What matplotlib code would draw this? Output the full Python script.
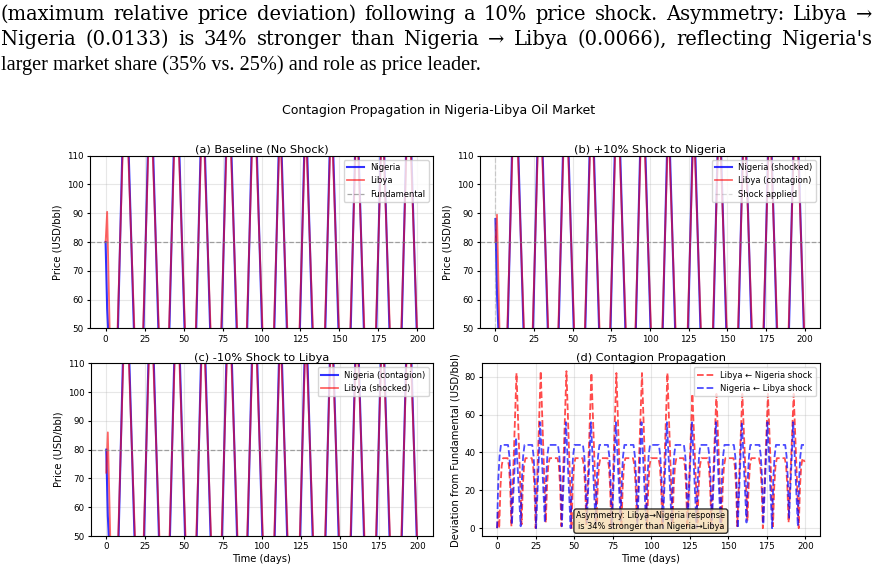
import numpy as np
import matplotlib.pyplot as plt

# ---- data ----
# spike vertices shared by the three price panels (days)
cycle_t = [7.3, 11.3, 14.1, 18.9, 23.7, 27.7, 29.8, 34.6, 40.3, 44.3, 46.6, 51.4,
           57.5, 61.5, 63.0, 67.8, 73.8, 77.8, 80.0, 84.8, 90.2, 94.2, 96.3, 101.1,
           107.6, 111.6, 112.2, 117.0, 124.0, 128.0, 128.6, 133.4, 140.3, 144.3, 145.3, 150.1,
           156.6, 160.6, 161.6, 166.4, 173.0, 177.0, 178.0, 182.8, 189.3, 193.3, 195.4, 200.0]
nga_cycle = [36, 124, 124, 36, 36, 124, 124, 36, 36, 124, 124, 36,
             36, 124, 124, 36, 36, 124, 124, 36, 36, 124, 124, 36,
             36, 124, 124, 36, 36, 124, 124, 36, 36, 124, 124, 36,
             36, 124, 124, 36, 36, 124, 124, 36, 36, 124, 124, 41]
lby_cycle = [43, 117, 117, 43, 43, 117, 117, 43, 43, 117, 117, 43,
             43, 117, 117, 43, 43, 117, 117, 43, 43, 117, 117, 43,
             43, 117, 117, 43, 43, 117, 117, 43, 43, 117, 117, 43,
             43, 117, 117, 43, 43, 117, 117, 43, 43, 117, 117, 46]

# opening days of each scenario
start_t = [0, 1, 3]
nga_start_a = [80, 57, 34]
lby_start_a = [80, 90.5, 40]
nga_start_b = [88, 62, 34]
lby_start_b = [80, 89.5, 40]
nga_start_c = [80, 57, 34]
lby_start_c = [72, 86, 40]

fundamental = 80

# panel (d): deviation from fundamental, Libya under the Nigeria shock
lby_dev_t = [0, 1, 1.4, 2.2, 3.0, 3.9, 6.8, 7.7, 8.5, 9.3, 12.6, 15.9,
             16.7, 17.5, 18.4, 22.5, 23.4, 24.2, 25.0, 28.3, 31.6,
             32.4, 33.2, 34.1, 39.2, 40.1, 40.9, 41.7, 45.0, 48.3,
             49.1, 49.9, 50.8, 55.4, 56.3, 57.1, 57.9, 61.2, 64.5,
             65.3, 66.1, 67.0, 71.6, 72.5, 73.3, 74.1, 77.4, 80.7,
             81.5, 82.3, 83.2, 88.2, 89.1, 89.9, 90.7, 94.0, 97.3,
             98.1, 98.9, 99.8, 104.7, 105.6, 106.4, 107.2, 110.5, 113.8,
             114.6, 115.4, 116.3, 120.9, 121.8, 122.6, 123.4, 126.7, 130.0,
             130.8, 131.6, 132.5, 136.5, 137.4, 138.2, 139.0, 142.3, 145.6,
             146.4, 147.2, 148.1, 153.3, 154.2, 155.0, 155.8, 159.1, 162.4,
             163.2, 164.0, 164.9, 169.9, 170.8, 171.6, 172.4, 175.7, 179.0,
             179.8, 180.6, 181.5, 186.6, 187.5, 188.3, 189.1, 192.4, 195.7,
             196.5, 197.3, 198.2, 199.5]
lby_dev = [0, 9.5, 0, 22, 33, 37, 37, 33, 22, 1, 82, 2,
           22, 33, 37, 37, 33, 22, 0, 83, 3,
           22, 33, 37, 37, 33, 22, 1, 83, 0,
           22, 33, 37, 37, 33, 22, 2, 82, 4,
           22, 33, 37, 37, 33, 22, 0, 82, 1,
           22, 33, 37, 37, 33, 22, 3, 82, 0,
           22, 33, 37, 37, 33, 22, 1, 82, 2,
           22, 33, 37, 37, 33, 22, 0, 71, 3,
           22, 33, 37, 37, 33, 22, 2, 71, 0,
           22, 33, 37, 37, 33, 22, 1, 71, 4,
           22, 33, 37, 37, 33, 22, 0, 71, 1,
           22, 33, 37, 37, 33, 22, 3, 71, 0,
           22, 33, 37, 35]

# Nigeria under the Libya shock
nga_dev_t = [0, 0.8, 1.6, 2.5, 7.1, 8.0, 8.8, 9.6, 12.3, 15.3,
             16.1, 16.9, 17.8, 22.8, 23.7, 24.5, 25.3, 28.0, 31.0,
             31.8, 32.6, 33.5, 39.5, 40.4, 41.2, 42.0, 44.7, 47.7,
             48.5, 49.3, 50.2, 55.7, 56.6, 57.4, 58.2, 60.9, 63.9,
             64.7, 65.5, 66.4, 71.9, 72.8, 73.6, 74.4, 77.1, 80.1,
             80.9, 81.7, 82.6, 88.5, 89.4, 90.2, 91.0, 93.7, 96.7,
             97.5, 98.3, 99.2, 105.0, 105.9, 106.7, 107.5, 110.2, 113.2,
             114.0, 114.8, 115.7, 121.2, 122.1, 122.9, 123.7, 126.4, 129.4,
             130.2, 131.0, 131.9, 136.8, 137.7, 138.5, 139.3, 142.0, 145.0,
             145.8, 146.6, 147.5, 153.6, 154.5, 155.3, 156.1, 158.8, 161.8,
             162.6, 163.4, 164.3, 170.2, 171.1, 171.9, 172.7, 175.4, 178.4,
             179.2, 180.0, 180.9, 186.9, 187.8, 188.6, 189.4, 192.1, 195.1,
             195.9, 196.7, 197.6, 199.5]
nga_dev = [0, 26, 38, 44, 44, 38, 26, 2, 48, 1,
           26, 38, 44, 44, 38, 26, 0, 56, 3,
           26, 38, 44, 44, 38, 26, 1, 56, 0,
           26, 38, 44, 44, 38, 26, 3, 56, 2,
           26, 38, 44, 44, 38, 26, 0, 56, 4,
           26, 38, 44, 44, 38, 26, 2, 56, 1,
           26, 38, 44, 44, 38, 26, 0, 56, 3,
           26, 38, 44, 44, 38, 26, 4, 56, 0,
           26, 38, 44, 44, 38, 26, 1, 56, 2,
           26, 38, 44, 44, 38, 26, 0, 56, 3,
           26, 38, 44, 44, 38, 26, 2, 56, 0,
           26, 38, 44, 44, 38, 26, 5, 56, 1,
           26, 38, 44, 44]

para = ["(maximum relative price deviation) following a 10% price shock. Asymmetry: Libya \u2192",
        "Nigeria (0.0133) is 34% stronger than Nigeria \u2192 Libya (0.0066), reflecting Nigeria's",
        "larger market share (35% vs. 25%) and role as price leader."]

W, H = 877, 574
fig = plt.figure(figsize=(W / 100, H / 100), dpi=100)
renderer = fig.canvas.get_renderer()

wide_font = ['DejaVu Serif']
narrow_font = ['Liberation Serif', 'DejaVu Serif']

# size the wide font so that the first line nearly fills the width
probe = fig.text(0, 0, para[0], fontsize=10, family=wide_font)
wide_size = 10 * 850 / probe.get_window_extent(renderer).width
probe.remove()


def put_line(text, y_px, fam, size, justify):
	# draw one paragraph line, optionally spread to the full width
	kw = dict(fontsize=size, family=fam, va='baseline')
	if not justify:
		fig.text(1 / W, 1 - y_px / H, text, **kw)
		return
	words = text.split(' ')
	objs = [fig.text(0, 1 - y_px / H, w, **kw) for w in words]
	widths = [o.get_window_extent(renderer).width for o in objs]
	gap = (871 - sum(widths)) / (len(words) - 1)
	x = 1
	for o, w in zip(objs, widths):
		o.set_x(x / W)
		x += w + gap


put_line(para[0], 20, wide_font, wide_size, True)
put_line(para[1], 45, wide_font, wide_size, True)
put_line(para[2], 70, narrow_font, 14.6, False)

fig.suptitle('Contagion Propagation in Nigeria-Libya Oil Market', fontsize=9, y=1 - 104 / H)

boxes = {'a': [90, 155.7, 433, 328.3], 'b': [480, 155.7, 820, 328.3],
         'c': [90.7, 363.3, 433, 536], 'd': [481.7, 363.3, 820, 536]}
axes = {}
for k, (x0, y0, x1, y1) in boxes.items():
	axes[k] = fig.add_axes([x0 / W, 1 - y1 / H, (x1 - x0) / W, (y1 - y0) / H])

tick_fs = 6.3
lab_fs = 7.2
tit_fs = 8.2
leg_fs = 6.0
lw = 1.3

scen = [('a', nga_start_a, lby_start_a, 'Nigeria', 'Libya', '(a) Baseline (No Shock)'),
        ('b', nga_start_b, lby_start_b, 'Nigeria (shocked)', 'Libya (contagion)', '(b) +10% Shock to Nigeria'),
        ('c', nga_start_c, lby_start_c, 'Nigeria (contagion)', 'Libya (shocked)', '(c) -10% Shock to Libya')]

for k, n0, l0, nlab, llab, title in scen:
	ax = axes[k]
	ax.plot(start_t + cycle_t, n0 + nga_cycle, 'b-', lw=1.5, alpha=0.8, label=nlab)
	ax.plot(start_t + cycle_t, l0 + lby_cycle, 'r-', lw=1.3, alpha=0.6, label=llab)
	if k == 'a':
		ax.axhline(fundamental, color='gray', ls='--', lw=0.9, alpha=0.7, label='Fundamental')
	else:
		ax.axhline(fundamental, color='gray', ls='--', lw=0.9, alpha=0.7)
	if k == 'b':
		ax.axvline(0, color='gray', ls='--', lw=0.9, alpha=0.3, label='Shock applied')
	ax.set_ylim(50, 110)
	ax.set_title(title, fontsize=tit_fs, pad=2)
	ax.set_ylabel('Price (USD/bbl)', fontsize=lab_fs, labelpad=3)
	ax.legend(fontsize=leg_fs, loc='upper right')

ax = axes['d']
ax.plot(lby_dev_t, lby_dev, 'r--', lw=lw, alpha=0.7, label='Libya \u2190 Nigeria shock')
ax.plot(nga_dev_t, nga_dev, 'b--', lw=lw, alpha=0.7, label='Nigeria \u2190 Libya shock')
ax.set_title('(d) Contagion Propagation', fontsize=tit_fs, pad=2)
ax.set_ylabel('Deviation from Fundamental (USD/bbl)', fontsize=lab_fs, labelpad=3)
ax.legend(fontsize=leg_fs, loc='upper right')
ax.text(0.5, 0.03, 'Asymmetry: Libya\u2192Nigeria response\nis 34% stronger than Nigeria\u2192Libya',
        transform=ax.transAxes, ha='center', va='bottom', fontsize=5.9,
        bbox=dict(boxstyle='round', facecolor='wheat', alpha=0.8))

for k in ['c', 'd']:
	axes[k].set_xlabel('Time (days)', fontsize=lab_fs, labelpad=2)

for ax in axes.values():
	ax.set_xticks(np.arange(0, 201, 25))
	ax.tick_params(labelsize=tick_fs, length=2.5, pad=2)
	ax.grid(True, alpha=0.3)

fig.savefig('out.png', dpi=100)
